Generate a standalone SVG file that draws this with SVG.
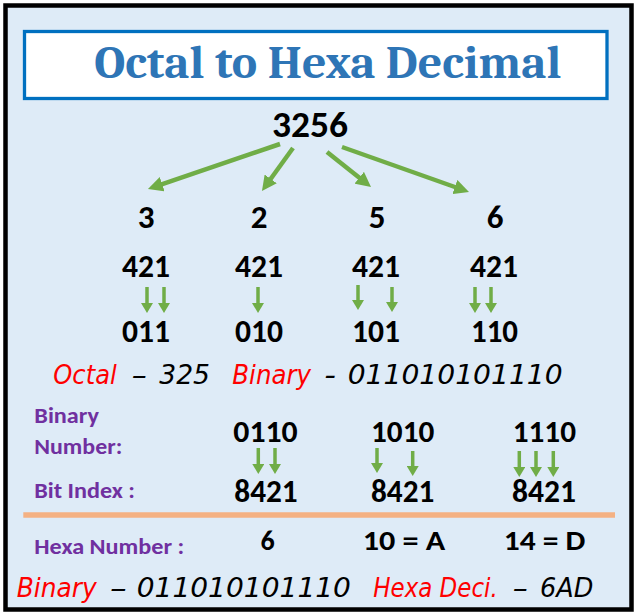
<svg xmlns="http://www.w3.org/2000/svg" width="636" height="616" viewBox="0 0 636 616">
<defs>
<marker id="ahBig" viewBox="0 0 10 10" refX="3" refY="5" markerWidth="15" markerHeight="15" markerUnits="userSpaceOnUse" orient="auto"><path d="M0,0 L10,5 L0,10 z" fill="#70AD47"/></marker>
<marker id="ahSmall" viewBox="0 0 10 12" refX="3" refY="6" markerWidth="10" markerHeight="12" markerUnits="userSpaceOnUse" orient="auto"><path d="M0,0 L10,6 L0,12 z" fill="#70AD47"/></marker>
</defs>
<style>
.num{font-family:Carlito,Calibri,"Liberation Sans",sans-serif;font-weight:bold;fill:#000;}
.lbl{font-family:Carlito,Calibri,"Liberation Sans",sans-serif;font-weight:bold;fill:#7030A0;font-size:23px;}
.hw{font-family:"Segoe Print","Comic Sans MS","DejaVu Sans",sans-serif;font-style:italic;font-size:26px;fill:#000;}
.red{fill:#FF0000;}
.big{stroke:#70AD47;stroke-width:4.5;fill:none;marker-end:url(#ahBig);}
.sm{stroke:#70AD47;stroke-width:3.5;fill:none;marker-end:url(#ahSmall);}
</style>
<rect x="5.5" y="5.5" width="626" height="604" fill="#DEEBF7" stroke="#000" stroke-width="4.5"/>
<g id="title">
<rect x="24.5" y="31.5" width="582.5" height="67" fill="#FFFFFF" stroke="#0070C0" stroke-width="3.3"/>
<text x="94.3" y="77.7" font-family="Cambria,Caladea,'Liberation Serif',serif" font-weight="bold" font-size="46" fill="#2E75B6" textLength="467" lengthAdjust="spacingAndGlyphs">Octal to Hexa Decimal</text>
</g>
<g id="octal-number"><text class="num" x="272" y="137" font-size="36" textLength="76" lengthAdjust="spacingAndGlyphs">3256</text></g>
<g id="digit-3"><text class="num" x="146" y="228" font-size="33" text-anchor="middle">3</text></g>
<g id="digit-2"><text class="num" x="259" y="228" font-size="33" text-anchor="middle">2</text></g>
<g id="digit-5"><text class="num" x="377" y="228" font-size="33" text-anchor="middle">5</text></g>
<g id="digit-6"><text class="num" x="495" y="228" font-size="33" text-anchor="middle">6</text></g>
<g id="weights-1"><text class="num" x="122" y="277" font-size="32" textLength="48" lengthAdjust="spacingAndGlyphs">421</text></g>
<g id="weights-2"><text class="num" x="235" y="277" font-size="32" textLength="48" lengthAdjust="spacingAndGlyphs">421</text></g>
<g id="weights-3"><text class="num" x="352" y="277" font-size="32" textLength="48" lengthAdjust="spacingAndGlyphs">421</text></g>
<g id="weights-4"><text class="num" x="470" y="277" font-size="32" textLength="48" lengthAdjust="spacingAndGlyphs">421</text></g>
<g id="bin-1"><text class="num" x="122" y="342" font-size="32" textLength="48" lengthAdjust="spacingAndGlyphs">011</text></g>
<g id="bin-2"><text class="num" x="235" y="342" font-size="32" textLength="48" lengthAdjust="spacingAndGlyphs">010</text></g>
<g id="bin-3"><text class="num" x="352" y="342" font-size="32" textLength="48" lengthAdjust="spacingAndGlyphs">101</text></g>
<g id="bin-4"><text class="num" x="471" y="342" font-size="32" textLength="47" lengthAdjust="spacingAndGlyphs">110</text></g>
<g id="summary-1">
<text class="hw red" x="53.3" y="384" textLength="63.4" lengthAdjust="spacingAndGlyphs">Octal</text>
<text class="hw" x="131.7" y="384" textLength="15" lengthAdjust="spacingAndGlyphs">–</text>
<text class="hw" x="159.3" y="384" textLength="50.7" lengthAdjust="spacingAndGlyphs">325</text>
<text class="hw red" x="232.3" y="384" textLength="78.7" lengthAdjust="spacingAndGlyphs">Binary</text>
<text class="hw" x="324.3" y="384" textLength="11.7" lengthAdjust="spacingAndGlyphs">-</text>
<text class="hw" x="347.7" y="384" textLength="215" lengthAdjust="spacingAndGlyphs">011010101110</text>
</g>
<g id="label-binary-number">
<text class="lbl" x="34.3" y="423.3" textLength="64.7" lengthAdjust="spacingAndGlyphs">Binary</text>
<text class="lbl" x="34.3" y="454" textLength="88" lengthAdjust="spacingAndGlyphs">Number:</text>
</g>
<g id="label-bit-index"><text class="lbl" x="34.3" y="497.7" textLength="100.7" lengthAdjust="spacingAndGlyphs">Bit Index :</text></g>
<g id="nibble-1"><text class="num" x="233.3" y="442.3" font-size="31" textLength="64.4" lengthAdjust="spacingAndGlyphs">0110</text></g>
<g id="nibble-2"><text class="num" x="371" y="442.3" font-size="31" textLength="63.3" lengthAdjust="spacingAndGlyphs">1010</text></g>
<g id="nibble-3"><text class="num" x="512.7" y="442.3" font-size="31" textLength="63.3" lengthAdjust="spacingAndGlyphs">1110</text></g>
<g id="index-1"><text class="num" x="234.3" y="502.3" font-size="32" textLength="63.4" lengthAdjust="spacingAndGlyphs">8421</text></g>
<g id="index-2"><text class="num" x="371" y="502.3" font-size="32" textLength="63.3" lengthAdjust="spacingAndGlyphs">8421</text></g>
<g id="index-3"><text class="num" x="512" y="502.3" font-size="32" textLength="64" lengthAdjust="spacingAndGlyphs">8421</text></g>
<g id="divider"><line x1="23.3" y1="515" x2="615" y2="515" stroke="#F4B183" stroke-width="5.5"/></g>
<g id="label-hexa-number"><text class="lbl" x="34.3" y="554.3" textLength="150" lengthAdjust="spacingAndGlyphs">Hexa Number :</text></g>
<g id="hex-1"><text class="num" x="267.5" y="550" font-size="28" text-anchor="middle">6</text></g>
<g id="hex-2"><text class="num" x="362.7" y="550" font-size="28.5" textLength="82.6" lengthAdjust="spacingAndGlyphs">10 = A</text></g>
<g id="hex-3"><text class="num" x="503.7" y="550" font-size="28.5" textLength="81.6" lengthAdjust="spacingAndGlyphs">14 = D</text></g>
<g id="summary-2">
<text class="hw red" x="16.7" y="596.7" textLength="80" lengthAdjust="spacingAndGlyphs">Binary</text>
<text class="hw" x="110" y="596.7" textLength="16.7" lengthAdjust="spacingAndGlyphs">–</text>
<text class="hw" x="136.7" y="596.7" textLength="214.3" lengthAdjust="spacingAndGlyphs">011010101110</text>
<text class="hw red" x="373.3" y="596.7" textLength="124.4" lengthAdjust="spacingAndGlyphs">Hexa Deci.</text>
<text class="hw" x="512.7" y="596.7" textLength="15" lengthAdjust="spacingAndGlyphs">–</text>
<text class="hw" x="540" y="596.7" textLength="53.3" lengthAdjust="spacingAndGlyphs">6AD</text>
</g>
<g id="connectors">
<line class="big" x1="280" y1="144" x2="157.9" y2="185.6"/>
<line class="big" x1="293" y1="148" x2="268.1" y2="182.5"/>
<line class="big" x1="327" y1="152" x2="362.8" y2="180.5"/>
<line class="big" x1="342" y1="147" x2="459.1" y2="188.5"/>
<line class="sm" x1="147" y1="287" x2="147" y2="306"/>
<line class="sm" x1="164" y1="287" x2="164" y2="306"/>
<line class="sm" x1="258" y1="287" x2="258" y2="306"/>
<line class="sm" x1="358" y1="285" x2="358" y2="303"/>
<line class="sm" x1="392" y1="287" x2="392" y2="305"/>
<line class="sm" x1="475" y1="287" x2="475" y2="306"/>
<line class="sm" x1="491" y1="287" x2="491" y2="306"/>
<line class="sm" x1="258.3" y1="448" x2="258.3" y2="467"/>
<line class="sm" x1="275" y1="448" x2="275" y2="467"/>
<line class="sm" x1="377" y1="448" x2="377" y2="466"/>
<line class="sm" x1="412.7" y1="451" x2="412.7" y2="469"/>
<line class="sm" x1="519.3" y1="451" x2="519.3" y2="470"/>
<line class="sm" x1="536" y1="451" x2="536" y2="470"/>
<line class="sm" x1="553.3" y1="451" x2="553.3" y2="470"/>
</g>
</svg>
